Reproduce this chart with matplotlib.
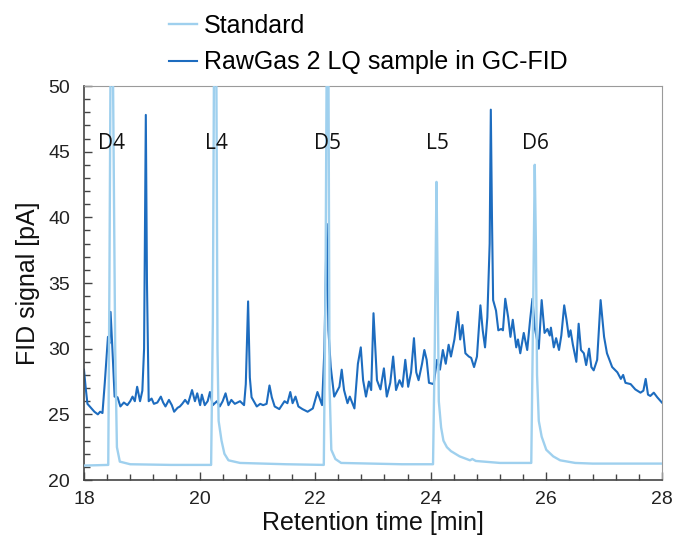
import numpy as np
import matplotlib.pyplot as plt
from matplotlib.ticker import MultipleLocator

# ----------------------------------------------------
# GC-FID chromatogram: siloxane standard vs RawGas sample
# ----------------------------------------------------

# ----------------------------------------------------
# Standard (retention time [min], signal [pA])
# ----------------------------------------------------

std_t = [18.00, 18.42, 18.44, 18.46, 18.50, 18.54, 18.57, 18.62, 18.80, 19.50,
         20.20, 20.23, 20.25, 20.29, 20.31, 20.33, 20.38, 20.43, 20.50, 20.70,
         21.50, 22.15, 22.18, 22.20, 22.23, 22.25, 22.28, 22.35, 22.45, 23.50,
         24.04, 24.07, 24.10, 24.12, 24.14, 24.18, 24.22, 24.28, 24.35, 24.50,
         24.68, 24.72, 24.78, 25.20, 25.74, 25.77, 25.80, 25.82, 25.84, 25.87,
         25.92, 26.00, 26.12, 26.24, 26.50, 26.80, 28.00]
std_y = [21.1, 21.15, 35.0, 52.0, 52.0, 30.0, 22.5, 21.4, 21.2, 21.15,
         21.15, 32.0, 52.0, 52.0, 30.0, 24.5, 23.0, 22.0, 21.5, 21.3,
         21.2, 21.15, 35.0, 52.0, 52.0, 27.0, 22.3, 21.6, 21.3, 21.2,
         21.2, 30.0, 42.7, 35.0, 26.0, 24.0, 23.0, 22.5, 22.2, 21.8,
         21.5, 21.6, 21.45, 21.3, 21.3, 32.0, 44.0, 38.0, 28.0, 24.5,
         23.3, 22.3, 21.8, 21.5, 21.3, 21.25, 21.25]

# ----------------------------------------------------
# RawGas 2 LQ sample
# ----------------------------------------------------

smp_t = [18.00, 18.03, 18.06, 18.12, 18.18, 18.24, 18.28, 18.32, 18.36, 18.415,
         18.44, 18.46, 18.49, 18.53, 18.58, 18.63, 18.69, 18.75, 18.80, 18.84,
         18.88, 18.92, 18.97, 19.01, 19.04, 19.07, 19.09, 19.12, 19.17, 19.21,
         19.27, 19.33, 19.37, 19.41, 19.47, 19.52, 19.56, 19.62, 19.66, 19.70,
         19.75, 19.80, 19.87, 19.92, 19.96, 20.01, 20.04, 20.09, 20.14, 20.18,
         20.23, 20.30, 20.35, 20.40, 20.45, 20.50, 20.55, 20.61, 20.70, 20.77,
         20.80, 20.84, 20.87, 20.90, 20.99, 21.05, 21.10, 21.16, 21.21, 21.25,
         21.30, 21.38, 21.47, 21.52, 21.57, 21.61, 21.66, 21.71, 21.78, 21.87,
         21.96, 22.04, 22.12, 22.16, 22.20, 22.23, 22.27, 22.33, 22.42, 22.46,
         22.50, 22.56, 22.60, 22.68, 22.74, 22.79, 22.83, 22.88, 22.93, 22.97,
         23.01, 23.04, 23.07, 23.13, 23.19, 23.24, 23.30, 23.35, 23.40, 23.46,
         23.51, 23.56, 23.61, 23.66, 23.71, 23.75, 23.79, 23.85, 23.89, 23.93,
         23.97, 24.05, 24.11, 24.16, 24.21, 24.26, 24.31, 24.35, 24.41, 24.47,
         24.51, 24.55, 24.60, 24.66, 24.70, 24.75, 24.80, 24.86, 24.90, 24.94,
         24.98, 25.02, 25.04, 25.06, 25.08, 25.13, 25.17, 25.22, 25.25, 25.29,
         25.34, 25.38, 25.42, 25.48, 25.51, 25.55, 25.61, 25.67, 25.72, 25.76,
         25.80, 25.87, 25.92, 25.97, 26.02, 26.06, 26.08, 26.13, 26.17, 26.22,
         26.26, 26.31, 26.35, 26.39, 26.42, 26.46, 26.52, 26.56, 26.60, 26.65,
         26.69, 26.74, 26.78, 26.82, 26.88, 26.94, 27.00, 27.05, 27.14, 27.23,
         27.29, 27.33, 27.37, 27.46, 27.54, 27.63, 27.68, 27.72, 27.76, 27.80,
         27.86, 27.92, 28.00]
smp_y = [28.4, 27.0, 25.8, 25.5, 25.2, 25.0, 25.2, 25.1, 27.4, 30.9,
         30.4, 32.8, 30.15, 26.35, 26.3, 25.6, 25.9, 25.7, 26.0, 26.35,
         26.0, 27.1, 26.0, 26.8, 30.0, 47.8, 35.0, 26.0, 26.2, 25.8,
         25.9, 26.35, 25.9, 25.6, 26.1, 25.7, 25.2, 25.5, 25.6, 25.8,
         26.1, 25.8, 26.85, 26.0, 26.6, 25.7, 26.5, 25.7, 26.0, 26.7,
         25.7, 26.0, 25.6, 26.0, 26.6, 25.7, 26.1, 25.8, 26.0, 25.7,
         27.3, 33.6, 27.8, 26.3, 25.6, 25.8, 25.7, 25.8, 27.2, 26.3,
         25.6, 25.4, 26.0, 25.85, 26.7, 25.85, 26.35, 25.6, 25.4, 25.2,
         25.45, 26.7, 25.7, 29.9, 39.5, 31.4, 28.6, 26.35, 27.1, 28.4,
         26.85, 25.85, 26.35, 25.45, 28.85, 30.1, 27.6, 26.35, 27.5, 26.85,
         32.7, 30.1, 27.6, 26.9, 28.5, 26.35, 27.4, 29.4, 26.85, 27.6,
         27.1, 29.15, 27.1, 28.2, 30.8, 28.2, 27.6, 28.85, 29.9, 29.15,
         27.4, 27.3, 29.15, 28.4, 29.9, 28.85, 30.3, 29.4, 30.7, 32.8,
         30.7, 31.8, 29.65, 29.4, 29.3, 28.6, 29.4, 33.3, 31.4, 30.1,
         32.4, 38.0, 48.2, 40.0, 33.7, 32.9, 31.4, 31.5, 31.4, 33.8,
         32.4, 30.9, 32.2, 30.1, 30.7, 29.65, 31.2, 29.9, 32.2, 33.8,
         31.6, 30.0, 33.7, 31.2, 31.5, 31.0, 31.6, 30.1, 30.8, 29.9,
         31.0, 33.3, 32.2, 30.9, 31.4, 30.3, 29.0, 31.9, 29.9, 29.65,
         28.75, 30.0, 28.6, 28.35, 29.15, 33.7, 30.9, 29.65, 28.6, 28.2,
         27.7, 28.0, 27.4, 27.3, 26.9, 26.65, 26.8, 27.7, 26.5, 26.4,
         26.65, 26.3, 25.9]

# ----------------------------------------------------
# Peak labels of the standard
# ----------------------------------------------------

peak_names = ["D4", "L4", "D5", "L5", "D6"]
peak_times = [18.48, 20.29, 22.22, 24.12, 25.82]

# ----------------------------------------------------
# Plot
# ----------------------------------------------------

plt.rcParams["font.family"] = ["Liberation Sans", "DejaVu Sans"]

fig = plt.figure(figsize=(6.74, 5.43), dpi=100)
ax = fig.add_axes([0.1246, 0.116, 0.8574, 0.7256])

std_line, = ax.plot(std_t, std_y, color="#9fd0ee", linewidth=1.7, zorder=3)
smp_line, = ax.plot(smp_t, smp_y, color="#1d6cbf", linewidth=1.5, zorder=2)

for name, t in zip(peak_names, peak_times):
    ax.text(t, 45.6, name, ha="center", va="center",
            fontsize=15, family=["Open Sans", "DejaVu Sans"], color="#111111")

ax.set_xlim(18, 28)
ax.set_ylim(20, 50)

ax.xaxis.set_major_locator(MultipleLocator(2))
ax.xaxis.set_minor_locator(MultipleLocator(0.4))
ax.yaxis.set_major_locator(MultipleLocator(5))
ax.yaxis.set_minor_locator(MultipleLocator(1))

ax.tick_params(which="both", direction="in", colors="#444444",
               labelcolor="#222222", labelsize=14)
ax.tick_params(which="major", length=6, width=1)
ax.tick_params(which="minor", length=4, width=1)
ax.tick_params(axis="x", pad=8)
ax.tick_params(axis="y", pad=10)

ax.spines["left"].set_color("#444444")
ax.spines["bottom"].set_color("#444444")
ax.spines["left"].set_linewidth(1.2)
ax.spines["bottom"].set_linewidth(1.2)
ax.spines["top"].set_color("#9a9a9a")
ax.spines["right"].set_color("#9a9a9a")

ax.set_xlabel("Retention time [min]", fontsize=18, labelpad=2, color="#111111")
ax.set_ylabel("FID signal [pA]", fontsize=18, labelpad=6, color="#111111")

fig.legend([std_line, smp_line],
           ["Standard", "RawGas 2 LQ sample in GC-FID"],
           loc="center left", bbox_to_anchor=(169 / 674, 1 - 44 / 543),
           frameon=False, fontsize=18, handlelength=1.1,
           handletextpad=0.3, labelspacing=0.5, borderpad=0,
           borderaxespad=0)

fig.savefig("out.png", dpi=100)
